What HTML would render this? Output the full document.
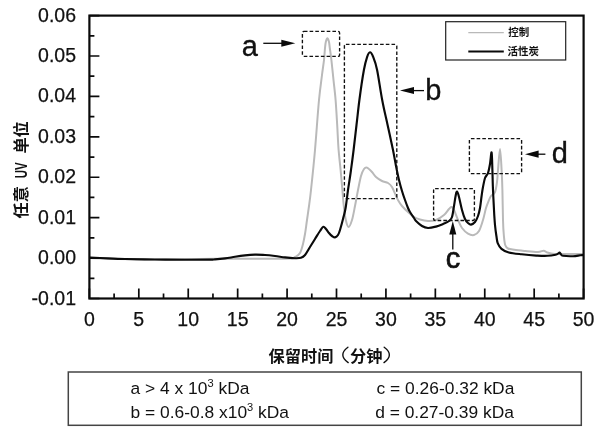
<!DOCTYPE html>
<html><head><meta charset="utf-8"><title>chart</title>
<style>html,body{margin:0;padding:0;background:#fff;}svg{will-change:transform;}body{width:600px;height:434px;overflow:hidden;font-family:"Liberation Sans",sans-serif;}</style>
</head><body>
<svg width="600" height="434" viewBox="0 0 600 434" style="display:block">
<rect width="600" height="434" fill="#fff"/>
<path d="M89.5 258.0C99.6 258.2 129.1 259.4 150.0 259.5C170.9 259.6 196.7 258.9 215.0 258.8C233.3 258.7 247.5 258.8 260.0 258.8C272.5 258.8 284.2 258.9 290.0 258.6C295.8 258.3 293.3 257.9 295.0 257.0C296.7 256.1 298.7 255.2 300.0 253.0C301.3 250.8 302.2 247.2 303.0 244.0C303.8 240.8 304.3 238.0 305.0 234.0C305.7 230.0 306.3 224.7 307.0 220.0C307.7 215.3 308.3 211.0 309.0 206.0C309.7 201.0 310.0 199.3 311.0 190.0C312.0 180.7 313.7 165.0 315.0 150.0C316.3 135.0 317.8 112.5 319.0 100.0C320.2 87.5 321.2 81.7 322.0 75.0C322.8 68.3 323.5 64.5 324.0 60.0C324.5 55.5 324.7 51.1 325.0 48.0C325.3 44.9 325.5 43.1 325.9 41.5C326.3 39.9 326.9 38.2 327.4 38.2C327.9 38.2 328.5 39.9 328.9 41.5C329.3 43.1 329.4 44.9 329.8 48.0C330.2 51.1 330.8 54.7 331.4 60.0C332.0 65.3 332.8 73.3 333.5 80.0C334.2 86.7 335.0 92.5 335.6 100.0C336.2 107.5 336.7 116.7 337.2 125.0C337.7 133.3 338.0 142.5 338.6 150.0C339.2 157.5 340.0 163.3 340.6 170.0C341.2 176.7 341.9 184.0 342.4 190.0C342.9 196.0 343.2 201.0 343.8 206.0C344.4 211.0 345.0 216.5 345.8 220.0C346.6 223.5 347.6 227.0 348.6 227.0C349.6 227.0 350.9 223.5 352.0 220.0C353.1 216.5 354.0 211.0 355.0 206.0C356.0 201.0 357.0 195.0 358.0 190.0C359.0 185.0 360.0 179.5 361.0 176.0C362.0 172.5 363.0 170.4 364.0 169.0C365.0 167.6 365.7 167.1 367.0 167.6C368.3 168.1 370.5 170.4 372.0 172.0C373.5 173.6 374.3 175.5 376.0 177.0C377.7 178.5 380.0 180.0 382.0 181.0C384.0 182.0 386.3 182.0 388.0 183.0C389.7 184.0 390.7 184.8 392.0 187.0C393.3 189.2 395.0 193.8 396.0 196.0C397.0 198.2 397.0 198.3 398.0 200.0C399.0 201.7 400.3 204.0 402.0 206.0C403.7 208.0 406.0 210.2 408.0 212.0C410.0 213.8 412.0 215.8 414.0 217.0C416.0 218.2 417.7 218.8 420.0 219.5C422.3 220.2 425.3 220.9 428.0 221.0C430.7 221.1 433.3 221.0 436.0 220.0C438.7 219.0 441.8 216.8 444.0 215.0C446.2 213.2 447.7 210.3 449.0 209.0C450.3 207.7 450.8 206.8 451.6 207.0C452.4 207.2 452.9 207.8 454.0 210.0C455.1 212.2 456.7 217.0 458.0 220.0C459.3 223.0 460.3 225.7 462.0 228.0C463.7 230.3 466.0 232.4 468.0 233.6C470.0 234.8 472.2 235.4 474.0 235.0C475.8 234.6 477.5 233.5 479.0 231.0C480.5 228.5 481.8 223.8 483.0 220.0C484.2 216.2 485.0 211.3 486.0 208.0C487.0 204.7 488.2 202.0 489.0 200.0C489.8 198.0 490.0 197.3 491.0 196.0C492.0 194.7 494.0 194.3 495.0 192.0C496.0 189.7 496.5 185.7 497.0 182.0C497.5 178.3 497.5 175.5 498.0 170.0C498.5 164.5 499.4 149.0 500.0 149.0C500.6 149.0 501.2 163.2 501.6 170.0C502.0 176.8 502.2 181.7 502.4 190.0C502.6 198.3 502.8 212.3 503.0 220.0C503.2 227.7 503.5 231.8 503.9 236.0C504.3 240.2 504.5 242.9 505.2 245.0C505.9 247.1 506.5 247.7 508.0 248.5C509.5 249.3 511.4 249.4 514.3 249.8C517.2 250.2 521.3 250.6 525.3 251.0C529.2 251.4 534.9 252.1 538.0 252.0C541.1 251.9 542.2 250.6 543.7 250.7C545.2 250.8 545.5 251.9 547.3 252.5C549.1 253.1 551.6 253.8 554.7 254.0C557.8 254.2 560.9 254.0 565.7 254.0C570.5 254.0 580.5 254.0 583.5 254.0" fill="none" stroke="#b9b9b9" stroke-width="2" stroke-linejoin="round"/>
<path d="M89.5 257.5C91.2 257.6 94.1 257.8 100.0 258.0C105.9 258.2 115.8 258.8 125.0 259.0C134.2 259.2 145.0 259.4 155.0 259.5C165.0 259.6 175.8 259.8 185.0 259.8C194.2 259.8 205.0 259.7 210.0 259.6C215.0 259.5 212.5 259.6 215.0 259.4C217.5 259.2 221.7 258.8 225.0 258.4C228.3 258.0 231.7 257.3 235.0 256.8C238.3 256.3 241.7 255.8 245.0 255.4C248.3 255.0 251.7 254.7 255.0 254.6C258.3 254.5 261.7 254.8 265.0 255.0C268.3 255.2 271.7 255.6 275.0 256.0C278.3 256.4 281.7 257.0 285.0 257.4C288.3 257.8 292.3 258.1 295.0 258.2C297.7 258.3 299.3 258.3 301.0 257.8C302.7 257.3 303.5 256.8 305.0 255.0C306.5 253.2 308.3 249.7 310.0 247.0C311.7 244.3 313.3 241.7 315.0 239.0C316.7 236.3 318.6 233.0 320.0 231.0C321.4 229.0 322.3 227.1 323.3 226.8C324.3 226.5 325.1 228.0 326.0 229.0C326.9 230.0 328.0 231.8 329.0 233.0C330.0 234.2 331.0 235.3 332.0 236.0C333.0 236.7 334.0 237.6 335.0 237.4C336.0 237.2 337.2 236.2 338.0 235.0C338.8 233.8 339.2 232.7 340.0 230.0C340.8 227.3 342.1 222.7 343.0 219.0C343.9 215.3 344.8 212.8 345.6 208.0C346.4 203.2 347.1 196.3 348.0 190.0C348.9 183.7 350.1 176.7 351.0 170.0C351.9 163.3 352.7 157.5 353.6 150.0C354.5 142.5 355.5 133.3 356.5 125.0C357.5 116.7 358.2 109.2 359.4 100.0C360.6 90.8 362.6 77.1 363.9 70.0C365.2 62.9 366.0 60.2 367.0 57.3C368.0 54.3 369.0 52.4 370.0 52.3C371.0 52.2 371.8 53.5 373.0 56.5C374.2 59.5 375.6 62.8 377.1 70.0C378.6 77.2 380.4 90.8 382.2 100.0C383.9 109.2 385.8 116.7 387.6 125.0C389.4 133.3 391.6 143.2 393.0 150.0C394.4 156.8 395.0 161.0 396.0 166.0C397.0 171.0 398.0 175.8 399.0 180.0C400.0 184.2 401.0 187.7 402.0 191.0C403.0 194.3 404.0 197.2 405.0 200.0C406.0 202.8 407.2 206.0 408.0 208.0C408.8 210.0 409.0 210.3 410.0 212.0C411.0 213.7 413.0 216.5 414.0 218.0C415.0 219.5 414.7 219.7 416.0 221.0C417.3 222.3 420.0 224.8 422.0 226.0C424.0 227.2 425.7 227.9 428.0 228.0C430.3 228.1 433.3 227.3 436.0 226.6C438.7 225.9 441.8 224.5 444.0 223.6C446.2 222.7 447.7 222.1 449.0 221.0C450.3 219.9 451.2 219.5 452.0 217.0C452.8 214.5 453.4 209.5 454.0 206.0C454.6 202.5 455.1 198.4 455.6 196.0C456.1 193.6 456.4 191.4 457.0 191.6C457.6 191.8 458.2 193.9 459.0 197.0C459.8 200.1 461.0 206.3 462.0 210.0C463.0 213.7 464.0 216.8 465.0 219.0C466.0 221.2 467.0 222.1 468.0 223.0C469.0 223.9 469.8 224.8 471.0 224.6C472.2 224.4 473.8 223.4 475.0 222.0C476.2 220.6 477.2 218.3 478.0 216.0C478.8 213.7 479.4 211.3 480.0 208.0C480.6 204.7 481.1 199.5 481.6 196.0C482.1 192.5 482.4 190.0 483.0 187.0C483.6 184.0 484.2 180.3 485.0 178.0C485.8 175.7 487.2 175.3 488.0 173.0C488.8 170.7 489.4 167.4 490.0 164.0C490.6 160.6 491.2 151.4 491.6 152.4C492.0 153.4 492.2 163.7 492.4 170.0C492.6 176.3 492.7 183.3 493.0 190.0C493.3 196.7 493.7 204.2 494.0 210.0C494.3 215.8 494.6 220.7 495.0 225.0C495.4 229.3 495.9 232.9 496.4 236.0C496.9 239.1 496.9 241.2 497.8 243.3C498.7 245.4 499.7 247.3 501.5 248.8C503.3 250.3 505.4 251.6 508.8 252.5C512.2 253.4 517.1 253.8 521.7 254.3C526.3 254.8 532.0 255.3 536.3 255.6C540.6 255.8 544.1 256.0 547.3 255.8C550.5 255.7 553.8 255.1 555.6 254.7C557.4 254.3 557.6 253.8 558.3 253.4C559.0 253.0 559.1 252.3 559.6 252.5C560.1 252.7 560.4 253.8 561.0 254.3C561.6 254.9 561.0 255.5 563.0 255.8C565.0 256.1 570.1 256.3 573.0 256.2C575.9 256.1 578.5 255.5 580.3 255.3C582.0 255.1 583.0 255.1 583.5 255.0" fill="none" stroke="#0a0a0a" stroke-width="2.15" stroke-linejoin="round"/>
<rect x="89.4" y="15.6" width="494.2" height="282.9" fill="none" stroke="#0a0a0a" stroke-width="2.2"/>
<path d="M89.40 298.5v-10M114.11 298.5v-5M138.82 298.5v-10M163.53 298.5v-5M188.24 298.5v-10M212.95 298.5v-5M237.66 298.5v-10M262.37 298.5v-5M287.08 298.5v-10M311.79 298.5v-5M336.50 298.5v-10M361.21 298.5v-5M385.92 298.5v-10M410.63 298.5v-5M435.34 298.5v-10M460.05 298.5v-5M484.76 298.5v-10M509.47 298.5v-5M534.18 298.5v-10M558.89 298.5v-5M583.60 298.5v-10M89.4 298.50h10M89.4 278.29h5M89.4 258.09h10M89.4 237.88h5M89.4 217.67h10M89.4 197.46h5M89.4 177.26h10M89.4 157.05h5M89.4 136.84h10M89.4 116.64h5M89.4 96.43h10M89.4 76.22h5M89.4 56.01h10M89.4 35.81h5M89.4 15.60h10" stroke="#0a0a0a" stroke-width="1.7" fill="none"/>
<g font-family="Liberation Sans, sans-serif" font-size="19.5" fill="#111" stroke="#111" stroke-width="0.25">
<text x="89.4" y="326.2" text-anchor="middle">0</text>
<text x="138.8" y="326.2" text-anchor="middle">5</text>
<text x="188.2" y="326.2" text-anchor="middle">10</text>
<text x="237.7" y="326.2" text-anchor="middle">15</text>
<text x="287.1" y="326.2" text-anchor="middle">20</text>
<text x="336.5" y="326.2" text-anchor="middle">25</text>
<text x="385.9" y="326.2" text-anchor="middle">30</text>
<text x="435.3" y="326.2" text-anchor="middle">35</text>
<text x="484.8" y="326.2" text-anchor="middle">40</text>
<text x="534.2" y="326.2" text-anchor="middle">45</text>
<text x="583.6" y="326.2" text-anchor="middle">50</text>
<text x="76" y="304.5" text-anchor="end">-0.01</text>
<text x="76" y="264.1" text-anchor="end">0.00</text>
<text x="76" y="223.7" text-anchor="end">0.01</text>
<text x="76" y="183.3" text-anchor="end">0.02</text>
<text x="76" y="142.8" text-anchor="end">0.03</text>
<text x="76" y="102.4" text-anchor="end">0.04</text>
<text x="76" y="62.0" text-anchor="end">0.05</text>
<text x="76" y="21.6" text-anchor="end">0.06</text>
</g>
<rect x="302.4" y="31.4" width="37.2" height="25.0" fill="none" stroke="#111" stroke-width="1.35" stroke-dasharray="3.6 2.1" rx="1.5"/>
<rect x="344.4" y="44.4" width="52.4" height="154.2" fill="none" stroke="#111" stroke-width="1.35" stroke-dasharray="3.6 2.1" rx="1.5"/>
<rect x="433.6" y="188.6" width="40.8" height="31.9" fill="none" stroke="#111" stroke-width="1.35" stroke-dasharray="3.6 2.1" rx="1.5"/>
<rect x="469.4" y="138.6" width="52.2" height="35.0" fill="none" stroke="#111" stroke-width="1.35" stroke-dasharray="3.6 2.1" rx="1.5"/>
<g stroke="#0a0a0a" stroke-width="1.3" fill="#0a0a0a">
<path d="M263.3 43.3H283" fill="none"/><path d="M295.3 43.3L281.3 39.8V46.8Z" stroke="none"/>
<path d="M424 90.6H412" fill="none"/><path d="M400 90.6L414 87.1V94.1Z" stroke="none"/>
<path d="M452.8 249.6V233" fill="none"/><path d="M452.8 221L449.3 234.5H456.3Z" stroke="none"/>
<path d="M545.4 154.2H537" fill="none"/><path d="M525 154.2L538.6 150.6V157.8Z" stroke="none"/>
</g>
<g font-family="Liberation Sans, sans-serif" font-size="29" fill="#111" text-anchor="middle" stroke="#111" stroke-width="0.35">
<text x="249.7" y="56.1">a</text><text x="433.4" y="99.9">b</text><text x="453" y="267.6" stroke="#111" stroke-width="0.7">c</text><text x="559.8" y="163">d</text>
</g>
<rect x="445.7" y="21.7" width="120" height="38.3" fill="#fff" stroke="#222" stroke-width="1.2"/>
<path d="M468.3 32.7H503.8" stroke="#b9b9b9" stroke-width="1.2"/>
<path d="M468.3 51.6H503.8" stroke="#0a0a0a" stroke-width="2"/>
<text x="508.2" y="36.2" font-family="'Liberation Sans', 'Noto Sans CJK SC', sans-serif" font-size="10.5" font-weight="bold" fill="#111">控制</text>
<text x="507.6" y="54.7" font-family="'Liberation Sans', 'Noto Sans CJK SC', sans-serif" font-size="10.5" font-weight="bold" fill="#111">活性炭</text>
<text x="268.6" y="361.5" font-family="'Liberation Sans', 'Noto Sans CJK SC', sans-serif" font-size="16.2" font-weight="bold" fill="#111">保留时间</text>
<text x="350" y="361.5" font-family="'Liberation Sans', 'Noto Sans CJK SC', sans-serif" font-size="16.2" font-weight="bold" fill="#111">分钟</text>
<path d="M347.9 347.2Q337.6 354.9 348.2 362.6M384.2 347.2Q394.6 354.9 384.0 362.6" fill="none" stroke="#111" stroke-width="1.4" stroke-linecap="round"/>
<g transform="translate(27.4 218.2) rotate(-90)">
<text x="-0.3" y="0" font-family="'Liberation Sans', 'Noto Sans CJK SC', sans-serif" font-size="16.2" font-weight="bold" fill="#111">任意</text>
<g transform="translate(39.9 -0.6) scale(0.72 1)"><text font-family="Liberation Sans, sans-serif" font-size="16" font-weight="bold" fill="#111">UV</text></g>
<text x="64.6" y="0" font-family="'Liberation Sans', 'Noto Sans CJK SC', sans-serif" font-size="16.2" font-weight="bold" fill="#111">单位</text>
</g>
<rect x="68.3" y="372" width="513" height="53.3" fill="#fff" stroke="#444" stroke-width="1.5"/>
<g transform="translate(130.6 393.8) scale(1.055 1)"><text font-family="Liberation Sans, sans-serif" font-size="16.5" fill="#111">a &gt; 4 x 10<tspan dy="-7.3" font-size="10.5">3</tspan><tspan dy="7.3"> </tspan>kDa</text></g>
<g transform="translate(130.6 417.8) scale(1.055 1)"><text font-family="Liberation Sans, sans-serif" font-size="16.5" fill="#111">b = 0.6-0.8 x10<tspan dy="-7.3" font-size="10.5">3</tspan><tspan dy="7.3"> </tspan>kDa</text></g>
<g transform="translate(376.6 393.8) scale(1.055 1)"><text font-family="Liberation Sans, sans-serif" font-size="16.5" fill="#111">c = 0.26-0.32 kDa</text></g>
<g transform="translate(375.2 417.8) scale(1.055 1)"><text font-family="Liberation Sans, sans-serif" font-size="16.5" fill="#111">d = 0.27-0.39 kDa</text></g>
</svg>
</body></html>
